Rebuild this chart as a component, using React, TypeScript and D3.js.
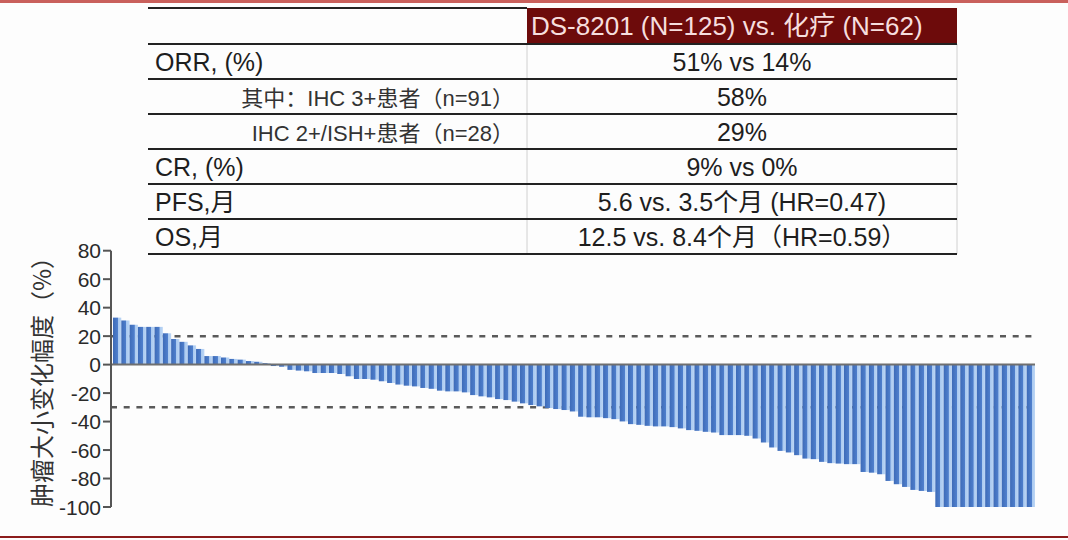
import * as d3 from 'd3'

// table content
const headerText = 'DS-8201 (N=125) vs. 化疗 (N=62)'
const rowLabels = ['ORR, (%)', '其中：IHC 3+患者（n=91）', 'IHC 2+/ISH+患者（n=28）', 'CR, (%)', 'PFS,月', 'OS,月']
const rowIsSub = [false, true, true, false, false, false]
const rowValues = ['51% vs 14%', '58%', '29%', '9% vs 0%', '5.6 vs. 3.5个月 (HR=0.47)', '12.5 vs. 8.4个月（HR=0.59）']

// waterfall chart
const yTicks = [80, 60, 40, 20, 0, -20, -40, -60, -80, -100]
const refLines = [20, -30]
const yTitle = '肿瘤大小变化幅度（%）'
const tumorChange = [
  33, 31, 28, 26.5, 26.5, 26.5, 22, 18, 16, 13.5, 11, 6, 6, 5, 4, 3.5, 2.5, 2, 1,
  -1, -1.5, -3.7, -4.2, -4.7, -5.9, -5.9, -5.9, -6.6, -8.2, -10.1, -10.1, -10.6, -11.7, -12.9,
  -14, -14.8, -15.3, -16.4, -17, -18.3, -18.8, -18.8, -19.5, -21.4, -22.3, -23, -24.2, -24.9,
  -26, -27.2, -28.4, -29.3, -30.5, -31.2, -31.9, -32.9, -36.6, -37, -37, -37.6, -38.3, -39.9,
  -41.8, -42.3, -43, -43.4, -43.4, -43.9, -44.8, -46, -46.5, -47.2, -47.7, -49.5, -49.5, -49.5,
  -50, -51.9, -54.7, -58.2, -60.6, -61.7, -63.6, -66, -66.4, -68.3, -69.2, -69.5, -69.9, -69.9,
  -75.4, -75.9, -77, -81.7, -84, -85.9, -88, -88.7, -89.4,
  -100, -100, -100, -100, -100, -100, -100, -100, -100, -100, -100, -100,
]

const W = 1068
const H = 540
const latin = "'Liberation Sans', Arial, 'Noto Sans CJK SC', sans-serif"
const cjk = "'Noto Sans CJK SC', sans-serif"

// table layout
const tLeft = 148
const tSplit = 527
const tRight = 957
const tTop = 8
const headH = 36
const rowH = 35

export default function App() {
  const x = d3
    .scaleBand<number>()
    .domain(d3.range(tumorChange.length))
    .range([113, 1035])
    .padding(0)
  const y = d3.scaleLinear().domain([-100, 80]).range([507, 250.7])
  const axisX = 111
  const rowTop = (i: number) => tTop + headH + i * rowH

  return (
    <svg
      width={W}
      height={H}
      viewBox={`0 0 ${W} ${H}`}
      style={{ position: 'absolute', left: 0, top: 0, background: '#fdfdfd' }}
    >
      <defs>
        <linearGradient id="barGrad" x1="0" x2="1" y1="0" y2="0">
          <stop offset="0%" stopColor="#3d6bb8" />
          <stop offset="58%" stopColor="#4f7fcc" />
          <stop offset="62%" stopColor="#a9c9f0" />
          <stop offset="100%" stopColor="#bcd6f5" />
        </linearGradient>
      </defs>

      {/* frame lines */}
      <line x1={0} x2={W} y1={1.5} y2={1.5} stroke="#c9605c" strokeWidth={3} />
      <line x1={0} x2={W} y1={537} y2={537} stroke="#8c1c1c" strokeWidth={2} />

      {/* table */}
      <rect x={tSplit} y={tTop} width={tRight - tSplit} height={headH} fill="#6d0b0b" />
      <text x={tSplit + 4} y={tTop + 27} fontFamily={latin} fontSize={26} fill="#f6dede">
        {headerText}
      </text>
      <line x1={tLeft} x2={tSplit} y1={tTop} y2={tTop} stroke="#222" strokeWidth={2} />
      <line x1={tSplit} x2={tSplit} y1={tTop + headH} y2={rowTop(rowLabels.length)} stroke="#d0d0d0" strokeWidth={1} />
      <line x1={tRight} x2={tRight} y1={tTop + headH} y2={rowTop(rowLabels.length)} stroke="#d0d0d0" strokeWidth={1} />
      {d3.range(rowLabels.length + 1).map((i) => (
        <line key={i} x1={tLeft} x2={tRight} y1={rowTop(i)} y2={rowTop(i)} stroke="#222" strokeWidth={2} />
      ))}
      {rowLabels.map((label, i) => (
        <text
          key={label}
          x={rowIsSub[i] ? 514 : 155}
          y={rowTop(i) + rowH / 2 + 9}
          textAnchor={rowIsSub[i] ? 'end' : 'start'}
          fontFamily={latin}
          fontSize={rowIsSub[i] ? 22 : 25}
          fill={rowIsSub[i] ? '#333' : '#1e1e1e'}
        >
          {label}
        </text>
      ))}
      {rowValues.map((v, i) => (
        <text
          key={v}
          x={(tSplit + tRight) / 2}
          y={rowTop(i) + rowH / 2 + 9}
          textAnchor="middle"
          fontFamily={latin}
          fontSize={25}
          fill="#1e1e1e"
        >
          {v}
        </text>
      ))}

      {/* reference lines behind bars */}
      {refLines.map((r) => (
        <line
          key={r}
          x1={axisX}
          x2={1035}
          y1={y(r)}
          y2={y(r)}
          stroke="#5a5a5a"
          strokeWidth={2.5}
          strokeDasharray="6,6.7"
        />
      ))}

      {/* bars */}
      {tumorChange.map((v, i) => (
        <rect
          key={i}
          x={x(i)}
          width={x.bandwidth()}
          y={Math.min(y(v), y(0))}
          height={Math.abs(y(v) - y(0))}
          fill="url(#barGrad)"
        />
      ))}

      {/* zero line */}
      <line x1={axisX} x2={1035} y1={y(0)} y2={y(0)} stroke="#6f6f6f" strokeWidth={2} />

      {/* y axis */}
      <line x1={axisX} x2={axisX} y1={y(80)} y2={y(-100)} stroke="#555" strokeWidth={2} />
      {yTicks.map((t) => (
        <g key={t} transform={`translate(0,${y(t)})`}>
          <line x1={axisX - 8} x2={axisX} stroke="#555" strokeWidth={2} />
          <text x={axisX - 10} dy="0.36em" textAnchor="end" fontFamily={latin} fontSize={21} fill="#2a2a2a">
            {t}
          </text>
        </g>
      ))}
      <text
        transform={`translate(43,376) rotate(-90)`}
        textAnchor="middle"
        dy="0.35em"
        fontFamily={cjk}
        fontSize={24}
        fill="#333"
      >
        {yTitle}
      </text>
    </svg>
  )
}
